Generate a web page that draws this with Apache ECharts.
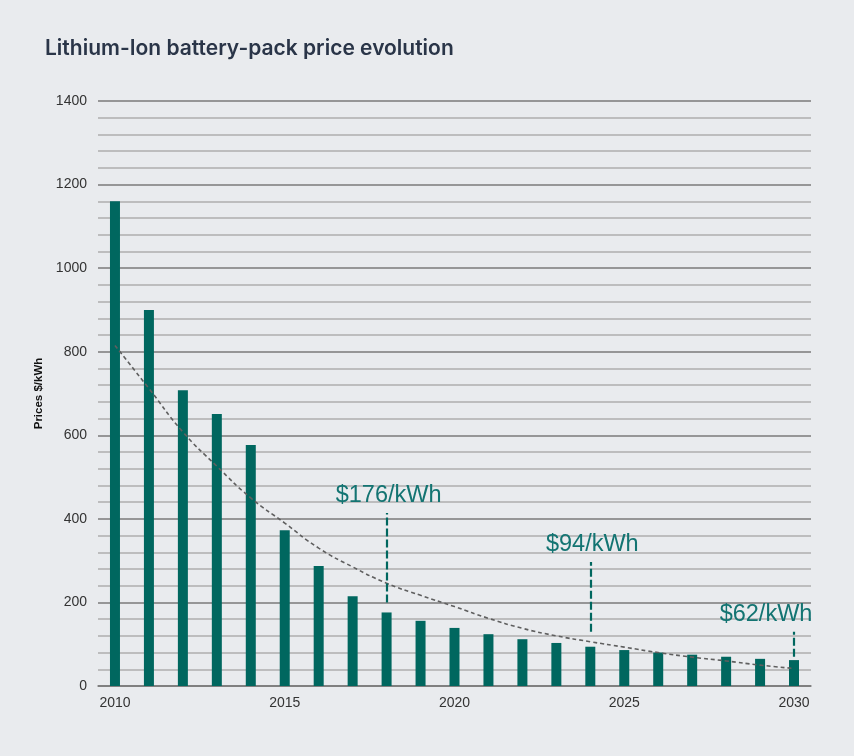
<!DOCTYPE html>
<html>
<head>
<meta charset="utf-8">
<script src="https://cdn.jsdelivr.net/npm/echarts@6/dist/echarts.min.js"></script>
<style>
  html, body { margin: 0; padding: 0; background: #e9ebee; }
  #chart { width: 854px; height: 756px; }
</style>
</head>
<body>
<div id="chart"></div>
<script>
const years = ['2010', '2011', '2012', '2013', '2014', '2015', '2016', '2017', '2018', '2019', '2020',
  '2021', '2022', '2023', '2024', '2025', '2026', '2027', '2028', '2029', '2030']
const prices = [1160, 900, 708, 651, 577, 373, 287, 215, 176, 156, 139,
  124, 112, 103, 94, 86, 80, 75, 70, 65, 62]
const trend = [815, 712, 608, 526, 450, 390, 330, 285, 246, 217, 190,
  162, 138, 120, 106, 93, 80, 69, 60, 50, 42]
// annotation: [year, label, line from, line to]
const notes = [
  ['2018', '$176/kWh', 200, 414],
  ['2024', '$94/kWh', 130, 297],
  ['2030', '$62/kWh', 70, 130]
]

const teal = '#00675f'
const gridColors = ['#7a7a7a', '#aeaeae', '#aeaeae', '#aeaeae', '#aeaeae']

const chart = echarts.init(document.getElementById('chart'))

const option = {
  backgroundColor: '#e9ebee',
  animation: false,
  title: {
    text: 'Lithium-Ion battery-pack price evolution',
    left: 40,
    top: 33,
    textStyle: {
      fontFamily: 'Inter',
      fontWeight: 600,
      fontSize: 21,
      color: '#2a3548'
    }
  },
  grid: {
    left: 98,
    right: 43,
    top: 101,
    bottom: 70
  },
  xAxis: {
    type: 'category',
    data: years,
    axisTick: { show: false },
    axisLine: { lineStyle: { color: '#7a7a7a', width: 1.5 } },
    axisLabel: {
      interval: 4,
      color: '#333',
      fontFamily: 'Liberation Sans',
      fontSize: 14,
      margin: 10
    }
  },
  yAxis: {
    type: 'value',
    min: 0,
    max: 1400,
    interval: 40,
    name: 'Prices $/kWh',
    nameLocation: 'middle',
    nameGap: 49,
    nameTextStyle: {
      fontFamily: 'Liberation Sans',
      fontWeight: 'bold',
      fontSize: 11.5,
      color: '#111'
    },
    axisLine: { show: false },
    axisTick: { show: false },
    axisLabel: {
      color: '#333',
      fontFamily: 'Liberation Sans',
      fontSize: 14,
      margin: 11,
      formatter: v => (v % 200 === 0 ? String(v) : '')
    },
    splitLine: {
      lineStyle: { color: gridColors, width: 1.5 }
    }
  },
  series: [
    {
      type: 'bar',
      data: prices,
      barWidth: 10,
      itemStyle: { color: teal },
      markLine: {
        symbol: 'none',
        silent: true,
        lineStyle: { color: teal, type: [8, 3], width: 2.2 },
        label: {
          show: true,
          position: 'end',
          distance: 5,
          color: '#137472',
          fontFamily: 'Liberation Sans',
          fontSize: 23.5
        },
        data: notes.map(n => [
          { coord: [n[0], n[2]] },
          {
            coord: [n[0], n[3]],
            label: {
              formatter: n[1],
              offset: n[0] === '2030' ? [-28, 0] : [2, 0]
            }
          }
        ])
      }
    },
    {
      type: 'line',
      data: trend,
      smooth: true,
      symbol: 'none',
      silent: true,
      lineStyle: { color: '#5f5f5f', type: [4, 3], width: 1.6 },
      z: 3
    }
  ]
}

chart.setOption(option)
</script>
</body>
</html>
